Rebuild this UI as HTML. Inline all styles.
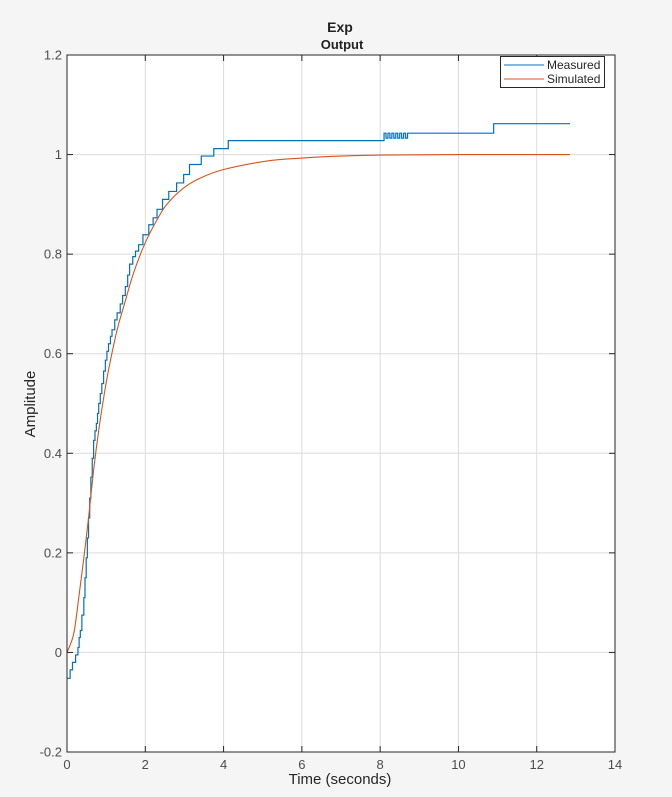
<!DOCTYPE html>
<html><head><meta charset="utf-8"><style>
body{margin:0;background:#f5f5f5;font-family:"Liberation Sans",sans-serif}
</style></head><body>
<svg width="672" height="797" id="c" style="display:block">
<rect x="0" y="0" width="672" height="797" fill="#f5f5f5"/>
<rect x="67" y="55" width="548" height="697" fill="#fff"/>
<g id="grid"></g>
<g id="series"></g>
<rect x="67" y="55" width="548" height="697" fill="none" stroke="#262626" stroke-width="1"/>
<g id="ticks"></g>
<text x="340" y="32" text-anchor="middle" font-size="14" font-weight="bold" fill="#222">Exp</text>
<text x="342" y="49" text-anchor="middle" font-size="13" font-weight="bold" fill="#222">Output</text>
<text x="340" y="784" text-anchor="middle" font-size="15" fill="#262626">Time (seconds)</text>
<text transform="translate(35,404) rotate(-90)" text-anchor="middle" font-size="15" fill="#262626">Amplitude</text>
<g>
<rect x="500.5" y="56.5" width="104" height="31" fill="#fff" stroke="#262626"/>
<line x1="504" y1="65" x2="544" y2="65" stroke="#0072bd"/>
<text x="547" y="69" font-size="12" fill="#262626">Measured</text>
<line x1="504" y1="79" x2="544" y2="79" stroke="#d95319"/>
<text x="547" y="83" font-size="12" fill="#262626">Simulated</text>
</g>
</svg>
<script>
const xTicks=[0,2,4,6,8,10,12,14];
const yTicks=[-0.2,0,0.2,0.4,0.6,0.8,1,1.2];
const yTickLabels=["-0.2","0","0.2","0.4","0.6","0.8","1","1.2"];
const measT=[0,0.08,0.14,0.22,0.28,0.31,0.34,0.38,0.43,0.46,0.49,0.52,0.55,0.58,0.61,0.645,0.68,0.715,0.75,0.78,0.81,0.85,0.89,0.935,0.98,1.02,1.06,1.11,1.15,1.22,1.28,1.36,1.42,1.49,1.55,1.60,1.68,1.75,1.83,1.94,2.09,2.2,2.3,2.44,2.6,2.8,2.98,3.13,3.43,3.75,4.12,8.1,8.15,8.2,8.25,8.3,8.35,8.4,8.45,8.5,8.55,8.6,8.65,8.7,10.9];
const measY=[-0.052,-0.035,-0.02,-0.005,0.01,0.03,0.044,0.075,0.11,0.15,0.19,0.23,0.27,0.31,0.352,0.39,0.426,0.445,0.46,0.48,0.5,0.52,0.54,0.565,0.587,0.605,0.62,0.635,0.648,0.668,0.682,0.70,0.717,0.735,0.758,0.78,0.795,0.806,0.819,0.839,0.859,0.873,0.89,0.91,0.926,0.943,0.96,0.98,0.997,1.012,1.028,1.043,1.033,1.043,1.033,1.043,1.033,1.043,1.033,1.043,1.033,1.043,1.033,1.043,1.062];
const measEnd=12.85;
const simT=[0,0.17,0.3,0.43,0.55,0.68,0.81,0.94,1.06,1.28,1.45,1.7,2,2.3,2.55,2.98,3.41,4,5.1,6,7,8,10,12.85];
const simY=[0,0.037,0.11,0.19,0.27,0.366,0.446,0.513,0.567,0.648,0.695,0.762,0.823,0.869,0.9,0.933,0.953,0.97,0.987,0.993,0.997,0.999,1,1];
const X=t=>67+(t-0)/14*548;
const Y=v=>752-(v+0.2)/1.4*697;
const NS="http://www.w3.org/2000/svg";
function mk(tag,attrs,parent){const e=document.createElementNS(NS,tag);for(const k in attrs)e.setAttribute(k,attrs[k]);parent.appendChild(e);return e;}
const grid=document.getElementById('grid'),ticks=document.getElementById('ticks'),series=document.getElementById('series');
xTicks.forEach(t=>{
 const g=mk('line',{x1:X(t),x2:X(t),y1:55,y2:752,stroke:'#dcdcdc','stroke-width':1},grid);
 
 
 const tk=mk('line',{x1:X(t),x2:X(t),y1:752,y2:746,stroke:'#262626'},ticks);
 
 
 const tk2=mk('line',{x1:X(t),x2:X(t),y1:55,y2:61,stroke:'#262626'},ticks);
 
 
 const l=mk('text',{x:X(t),y:769,'text-anchor':'middle','font-size':13,fill:'#4d4d4d'},ticks);
 l.textContent=t;
 
 
});
yTicks.forEach((v,i)=>{
 const g=mk('line',{x1:67,x2:615,y1:Y(v),y2:Y(v),stroke:'#dcdcdc','stroke-width':1},grid);
 
 
 const tk=mk('line',{x1:67,x2:73,y1:Y(v),y2:Y(v),stroke:'#262626'},ticks);
 
 
 const tk2=mk('line',{x1:609,x2:615,y1:Y(v),y2:Y(v),stroke:'#262626'},ticks);
 
 
 const l=mk('text',{x:62,y:Y(v)+4.5,'text-anchor':'end','font-size':13,fill:'#4d4d4d'},ticks);
 l.textContent=yTickLabels[i];
 
 
});
let d='';
measT.forEach((t,i)=>{const tn=i<measT.length-1?measT[i+1]:measEnd;d+=(i?'L':'M')+X(t)+' '+Y(measY[i])+' L'+X(tn)+' '+Y(measY[i])+' ';});
const pm=mk('path',{d:d,fill:'none',stroke:'#0072bd','stroke-width':1.2},series);


const P=simT.map((t,i)=>[X(t),Y(simY[i])]);
let d2='M'+P[0][0]+' '+P[0][1];
for(let i=0;i<P.length-1;i++){
 const p0=P[Math.max(0,i-1)],p1=P[i],p2=P[i+1],p3=P[Math.min(P.length-1,i+2)];
 const c1=[p1[0]+(p2[0]-p0[0])/6,p1[1]+(p2[1]-p0[1])/6];
 const c2=[p2[0]-(p3[0]-p1[0])/6,p2[1]-(p3[1]-p1[1])/6];
 d2+=' C'+c1[0]+' '+c1[1]+' '+c2[0]+' '+c2[1]+' '+p2[0]+' '+p2[1];
}
const ps=mk('path',{d:d2,fill:'none',stroke:'#d95319','stroke-width':1.1,'stroke-linejoin':'round'},series);


</script>
</body></html>
